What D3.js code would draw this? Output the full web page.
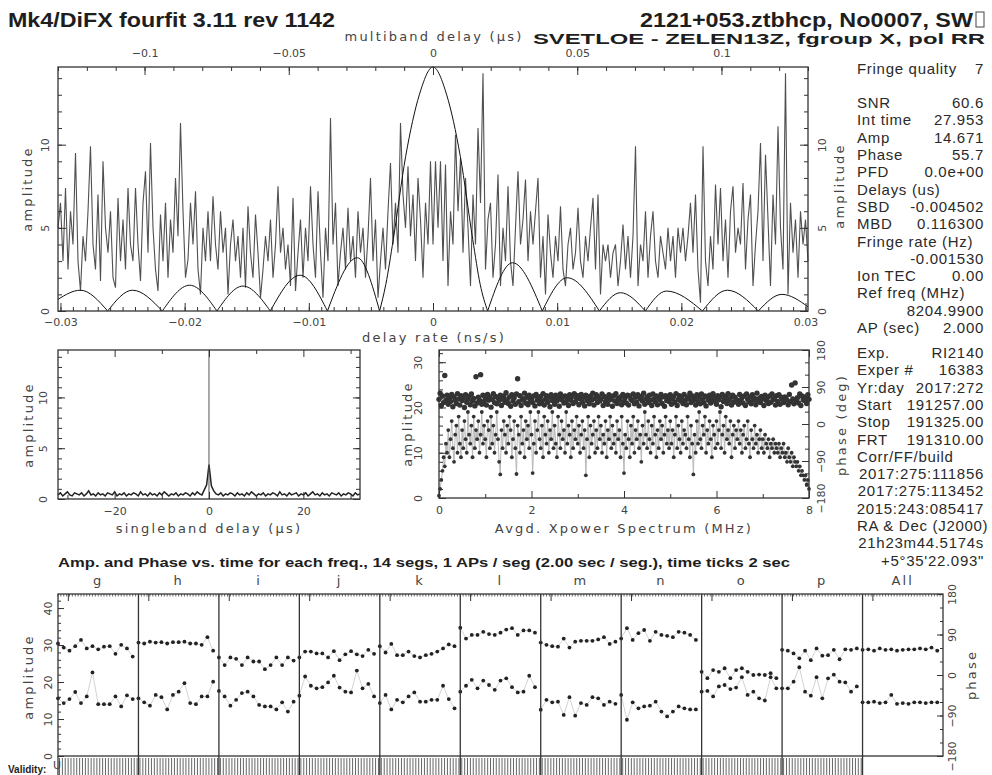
<!DOCTYPE html>
<html>
<head>
<meta charset="utf-8">
<script src="https://cdnjs.cloudflare.com/ajax/libs/d3/7.8.5/d3.min.js"></script>
<style>
body { margin:0; background:#fff; }
svg { display:block; }
.tk { font-family:"DejaVu Sans", sans-serif; font-size:11px; fill:#444; }
.ttl { font-family:"DejaVu Sans", sans-serif; font-size:13px; fill:#444; letter-spacing:2.2px; }
.info { font-family:"Liberation Sans", Arial, sans-serif; font-size:15px; fill:#2a2a2a; letter-spacing:0.7px; }
.big { font-family:"Liberation Sans", Arial, sans-serif; font-weight:bold; fill:#1e1e1e; }
</style>
</head>
<body>
<script>
// ---- fringe plot values ----

// multiband delay function (top axis, -0.13 .. 0.13 us, 301 samples)
var mbdAmp = [
  5.0,6.5,3.0,7.4,2.5,6.0,4.0,9.5,3.0,1.2, 4.5,3.0,6.0,9.9,4.0,2.5,7.0,1.8,9.0,5.0,
  3.5,6.0,2.0,1.4,6.8,3.0,5.5,2.5,7.4,4.0, 3.0,7.4,4.0,1.8,6.5,8.4,3.5,10.1,5.0,2.5,
  1.2,5.8,3.0,6.5,2.0,5.5,3.5,8.0,4.5,11.3, 6.0,2.0,3.1,6.5,4.0,7.2,2.5,1.0,5.0,3.0,
  6.0,3.0,6.9,4.0,2.5,6.0,3.5,5.0,1.0,4.0, 5.5,3.0,4.5,2.0,5.0,1.4,6.3,3.5,2.0,5.8,
  3.5,0.8,2.5,4.5,3.0,5.5,2.0,4.0,7.5,3.5, 5.0,2.5,4.0,1.5,6.8,1.2,3.5,5.5,2.0,5.0,
  3.0,7.5,4.0,2.0,7.2,3.5,0.8,5.0,3.0,11.6, 4.0,6.5,1.5,3.5,5.0,2.5,6.2,3.0,4.5,2.0,
  6.0,3.5,5.0,2.0,4.5,8.0,3.0,5.5,0.8,3.0, 5.0,2.5,6.0,8.9,4.0,6.5,3.5,11.3,7.0,5.0,
  8.7,4.5,7.0,3.0,8.0,5.5,2.0,6.5,4.0,9.0, 4.0,9.0,5.0,9.0,3.0,8.8,1.5,6.0,4.0,10.6,
  6.0,9.2,3.5,8.0,5.0,1.5,7.0,4.0,11.0,6.5, 14.3,2.5,5.5,6.5,2.0,4.0,8.2,1.5,5.0,3.0,
  7.5,3.0,1.5,5.0,8.4,4.0,5.5,7.9,3.0,6.0, 4.0,6.0,8.0,2.0,4.5,1.0,5.8,3.5,2.0,4.5,
  3.0,6.3,2.5,1.5,4.0,5.0,2.5,3.5,6.2,3.0, 2.0,4.5,3.0,5.0,6.8,2.5,7.0,1.0,4.0,3.0,
  4.0,2.0,3.5,4.0,1.5,3.0,5.2,2.5,4.5,2.0, 4.5,9.9,1.5,4.0,3.0,6.0,2.0,4.5,6.0,3.0,
  2.0,4.5,3.5,2.5,5.0,3.0,4.5,2.0,5.0,3.5, 5.0,3.0,4.5,6.5,3.5,7.0,2.5,0.5,9.9,3.0,
  1.5,4.5,2.5,7.6,4.0,7.4,3.0,5.5,2.0,6.0, 7.5,3.5,5.0,4.0,7.7,2.5,5.5,7.0,1.5,4.0,
  6.0,10.1,3.0,9.4,5.5,1.5,7.0,4.0,11.1,5.0, 2.5,14.3,1.0,6.5,3.5,5.5,2.0,6.0,4.0,5.5,
  3.0]
var mbdLimits = [-0.130, 0.130]

// delay rate function (bottom axis, ns/s)
var rateX = [-0.0302,-0.0284,-0.0262,-0.0242,-0.0218,-0.0196,-0.0174,-0.0153,-0.0131,-0.0107,
  -0.0085,-0.0061,-0.0043,-0.0038,-0.0032,-0.0022,-0.0011,0,0.0011,0.0022,
  0.0032,0.0038,0.0044,0.0064,0.0088,0.0108,0.0134,0.0151,0.0171,0.0188,
  0.0217,0.0237,0.0262,0.0281,0.0302]
var rateAmp = [0.7,1.25,0,1.25,0,1.55,0,1.5,0,2.15,
  0,3.2,0,1.6,4.3,9.3,13.0,14.67,13.0,9.3,
  4.3,1.6,0,2.9,0,2.0,0,1.1,0,1.2,
  0,1.25,0,1.0,0.25]

// singleband delay function, -32 .. 32 us in 0.5 us steps
var sbdAmp = [0.4,0.6,0.3,0.5,0.7,0.4,0.3,0.6,0.5,0.4,
  0.6,0.3,0.5,0.8,0.4,0.5,0.3,0.6,0.4,0.5,
  0.3,0.6,0.5,0.4,0.7,0.3,0.5,0.4,0.6,0.3,
  0.5,0.4,0.6,0.5,0.3,0.7,0.4,0.5,0.3,0.6,
  0.4,0.5,0.3,0.6,0.4,0.7,0.5,0.3,0.5,0.4,
  0.6,0.3,0.5,0.4,0.6,0.5,0.3,0.6,0.4,0.7,
  0.5,0.4,0.9,1.4,3.4,1.3,0.8,0.5,0.4,0.6,
  0.3,0.5,0.4,0.6,0.5,0.3,0.6,0.4,0.5,0.3,
  0.6,0.4,0.7,0.5,0.3,0.5,0.4,0.6,0.3,0.5,
  0.4,0.6,0.5,0.3,0.7,0.4,0.5,0.3,0.6,0.4,
  0.5,0.6,0.3,0.5,0.4,0.6,0.3,0.5,0.7,0.4,
  0.5,0.3,0.6,0.4,0.5,0.3,0.6,0.5,0.4,0.6,
  0.3,0.5,0.4,0.6,0.5,0.3,0.6,0.4,0.5]
var sbdStart = -32, sbdStep = 0.5
var sbdResult = -0.004502

// averaged cross power spectrum: amplitude and phase every 0.025 MHz
var specAmp = [
  0.5,2,4,6,9,7,12,10,15,9,13,17,11,8,14,16,10,18,12,9,
  15,11,17,13,10,19,14,12,16,9,18,11,15,13,17,10,14,19,12,16,
  13,9,17,15,11,18,12,16,10,14,19,13,8,5.2,15,11,17,14,10,16,
  12,18,15,9,13,17,11,5.3,16,14,10,18,12,15,9,17,13,16,11,19,
  14,5.5,12,17,10,15,19,13,11,16,9,18,14,12,17,10,15,13,19,11,
  16,12,9,18,14,11,17,13,15,10,19,12,16,14,9,17,11,15,13,18,
  12,16,10,14,17,11,15,5.0,13,18,9,16,12,14,17,10,15,11,18,13,
  16,10,14,12,17,9,15,13,18,11,16,12,14,10,17,13,15,9,18,12,
  5.5,14,11,17,13,9,16,12,18,10,15,13,17,11,14,8,16,12,19,14,
  11,17,13,10,16,12,18,14,9,15,11,17,13,16,10,14,18,12,15,11,
  17,12,15,9,14,18,11,16,13,10,17,12,15,14,11,18,13,9,16,12,
  5.2,14,10,17,12,19,13,11,16,14,18,10,15,12,17,13,9,16,14,11,
  17,12,15,19,11,14,16,10,18,13,15,12,17,9,14,16,11,15,13,17,
  12,15,10,14,16,11,13,17,12,9,15,13,11,16,12,14,10,13,15,11,
  13,10,14,12,11,13,9,12,11,13,10,12,11,10,12,9,11,10,12,9,
  10,8,11,9,8,10,7,9,8,7,8,6,7,5,6,5,4,5,3,4,
  2]
var specPhase = [
  60,75,45,68,52,118,58,70,48,63,55,72,42,66,58,50,74,61,46,69,
  57,64,40,71,53,60,67,47,73,56,62,44,115,51,65,58,120,48,70,55,
  63,46,72,58,66,41,60,74,52,67,49,63,57,70,45,61,68,53,76,59,
  50,66,43,71,56,64,48,73,110,54,69,45,62,58,75,51,65,47,70,57,
  61,52,68,44,72,58,63,49,67,55,74,46,60,69,53,65,42,71,57,62,
  48,70,56,64,43,73,59,66,51,68,55,62,45,71,58,67,50,74,54,63,
  69,47,61,72,53,65,44,70,57,63,49,68,58,75,46,62,71,52,66,56,
  60,73,45,67,54,62,48,71,59,65,43,69,56,74,50,63,58,66,47,72,
  55,64,51,70,46,68,60,57,73,49,65,53,71,44,62,67,56,75,48,61,
  66,52,70,58,45,73,61,54,68,47,64,59,72,50,66,43,69,57,63,55,
  71,48,62,67,53,74,45,60,69,56,64,50,72,58,47,66,61,75,52,68,
  57,63,46,71,55,66,49,73,60,52,68,44,65,58,70,51,62,74,56,64,
  48,69,59,66,42,72,55,61,67,50,74,57,63,46,70,53,65,59,58,48,
  72,56,64,51,68,45,73,60,54,66,49,71,58,62,47,75,55,62,52,67,
  61,45,70,57,64,50,68,53,73,59,62,46,69,55,71,48,65,60,52,66,
  63,58,47,72,54,95,61,49,100,56,64,51,73,45,68,59,57,66,50,71,
  60]
var specStep = 0.025

// amplitude and phase per segment for each frequency channel
var chanNames = ["g","h","i","j","k","l","m","n","o","p","All"]
var segAmp = [
  [15.6,14.3,15.4,17.3,14.3,16.1,22.6,14.0,14.0,14.0,16.1,13.4,16.4,15.4],
  [15.6,14.5,13.6,16.5,15.9,12.6,16.5,17.4,19.7,14.3,14.0,16.1,16.1,20.1],
  [17.6,16.1,13.6,15.2,17.0,17.4,16.1,13.8,13.4,13.4,12.6,14.5,12.0,14.7],
  [16.3,21.5,19.0,18.3,18.6,19.9,21.7,18.5,17.4,17.2,23.1,18.3,19.5,16.1],
  [14.3,16.5,12.6,15.2,14.5,16.1,17.2,14.7,14.7,15.2,15.2,19.0,15.4,12.9],
  [17.4,19.0,20.6,18.3,20.4,19.2,17.9,20.4,21.0,18.6,17.2,17.4,21.7,18.6],
  [12.5,15.2,14.5,14.7,11.1,15.9,10.9,14.3,13.8,15.9,15.6,13.8,14.7,14.1],
  [16.5,9.8,14.5,12.9,13.4,13.6,14.7,12.0,10.7,12.0,13.4,12.9,12.6,12.6],
  [17.4,17.6,16.1,18.8,19.2,18.1,18.5,21.3,16.5,17.4,15.6,15.0,21.3,18.3],
  [18.3,18.3,20.1,24.0,17.4,16.3,21.3,15.6,21.0,22.0,20.1,19.9,17.4,18.8],
  [14.5,14.5,14.7,14.3,14.5,16.5,14.1,14.3,14.1,14.5,14.5,14.3,14.5,14.5]]
var segPhase = [
  [70,61,54,64,78,59,64,57,63,64,47,67,59,41],
  [72,70,74,72,73,70,73,73,74,70,70,67,84,54],
  [39,22,39,36,22,39,30,30,13,22,39,22,39,32],
  [39,52,52,48,48,39,53,33,46,53,46,42,56,47],
  [64,50,69,44,44,52,42,39,44,47,52,59,68,64],
  [105,81,89,89,96,91,89,94,101,104,89,99,99,94],
  [72,67,64,63,81,61,74,76,76,76,79,84,69,74],
  [81,104,78,93,100,76,96,89,87,84,96,94,89,78],
  [7,-7,11,7,15,-7,11,15,7,0,1,0,4,-7],
  [56,54,48,37,54,33,59,43,44,56,35,57,56,59],
  [56,57,54,59,56,57,54,56,57,57,59,57,61,54]]
var nSegs = 14

// text block on the right
var infoTop = [["Fringe quality","7"],null,["SNR","60.6"],["Int time","27.953"],["Amp","14.671"],
  ["Phase","55.7"],["PFD","0.0e+00"],["Delays (us)",""],["SBD","-0.004502"],["MBD","0.116300"],
  ["Fringe rate (Hz)",""],["","-0.001530"],["Ion TEC","0.00"],["Ref freq (MHz)",""],
  ["","8204.9900"],["AP (sec)","2.000"]]
var infoBottom = [["Exp.","RI2140"],["Exper #","16383"],["Yr:day","2017:272"],["Start","191257.00"],
  ["Stop","191325.00"],["FRT","191310.00"],["Corr/FF/build",""],["","2017:275:111856"],
  ["","2017:275:113452"],["","2015:243:085417"],["RA & Dec (J2000)",""],["","21h23m44.5174s"],
  ["","+5\u00b035'22.093\""]]

var W = 992, H = 775
var svg = d3.select("body").append("svg")
    .attr("width", W)
    .attr("height", H)
svg.append("rect").attr("width", W).attr("height", H).attr("fill", "#fff")

var fmt = d3.format("")

function drawAxis(axis, tx, ty) {
  var a = svg.append("g")
    .attr("transform", "translate(" + tx + "," + ty + ")")
    .call(axis)
  a.select(".domain").remove()
  a.selectAll(".tick line").attr("stroke", "#333").attr("stroke-width", 1)
  a.selectAll(".tick text").attr("class", "tk")
  return a
}
// vertical tick labels, like the plotting package does
function rotLabels(a, dx) {
  a.selectAll(".tick text")
    .attr("x", 0).attr("dy", 0)
    .attr("text-anchor", "middle")
    .attr("transform", "translate(" + dx + ",0) rotate(-90)")
}
function vTitle(txt, cx, cy) {
  svg.append("text").attr("class", "ttl")
    .attr("text-anchor", "middle")
    .attr("transform", "translate(" + (cx + 4) + "," + cy + ") rotate(-90)")
    .text(txt)
}
function hTitle(txt, cx, y) {
  svg.append("text").attr("class", "ttl")
    .attr("text-anchor", "middle")
    .attr("x", cx).attr("y", y)
    .text(txt)
}
function frame(x0, y0, x1, y1) {
  svg.append("rect")
    .attr("x", x0).attr("y", y0)
    .attr("width", x1 - x0).attr("height", y1 - y0)
    .attr("fill", "none").attr("stroke", "#333").attr("stroke-width", 1.3)
}

// ---------------- titles ----------------
svg.append("text").attr("class", "big")
  .attr("x", 8).attr("y", 27).attr("font-size", 20)
  .attr("textLength", 327).attr("lengthAdjust", "spacingAndGlyphs")
  .text("Mk4/DiFX fourfit 3.11 rev 1142")
svg.append("text").attr("class", "big")
  .attr("x", 640).attr("y", 27).attr("font-size", 20)
  .attr("textLength", 333).attr("lengthAdjust", "spacingAndGlyphs")
  .text("2121+053.ztbhcp, No0007, SW")
svg.append("rect").attr("x", 976).attr("y", 12).attr("width", 8).attr("height", 15)
  .attr("fill", "none").attr("stroke", "#444").attr("stroke-width", 1)
svg.append("text").attr("class", "big")
  .attr("x", 533).attr("y", 44).attr("font-size", 15)
  .attr("textLength", 452).attr("lengthAdjust", "spacingAndGlyphs")
  .text("SVETLOE - ZELEN13Z, fgroup X, pol RR")

// ---------------- main plot: mbd + delay rate ----------------
var xRate = d3.scaleLinear().domain([-0.0302, 0.0302]).range([58, 808])
var xMbd = d3.scaleLinear().domain(mbdLimits).range([58, 808])
var yMain = d3.scaleLinear().domain([0, 14.67]).range([311, 67])

var mbdStep = (mbdLimits[1] - mbdLimits[0]) / (mbdAmp.length - 1)
var mbdLine = d3.line()
  .x(function(d, i) { return xMbd(mbdLimits[0] + i * mbdStep) })
  .y(function(d) { return yMain(d) })
svg.append("path")
  .datum(mbdAmp)
  .attr("d", mbdLine)
  .attr("fill", "none").attr("stroke", "#505050").attr("stroke-width", 1.1)

// delay rate curve, split into lobes at its nulls
var ratePts = rateX.map(function(d, i) { return [d, rateAmp[i]] })
var lobes = [], cur = []
ratePts.forEach(function(p) {
  cur.push(p)
  if (p[1] === 0 && cur.length > 1) { lobes.push(cur); cur = [p] }
})
if (cur.length > 1) lobes.push(cur)
var rateLine = d3.line()
  .x(function(d) { return xRate(d[0]) })
  .y(function(d) { return yMain(d[1]) })
  .curve(d3.curveMonotoneX)
svg.selectAll(".lobe").data(lobes).enter().append("path")
  .attr("class", "lobe")
  .attr("d", rateLine)
  .attr("fill", "none").attr("stroke", "#111").attr("stroke-width", 1)

frame(58, 67, 808, 311)
drawAxis(d3.axisBottom(xRate).tickValues(d3.range(-30, 31).map(function(d) { return d / 1000 }))
  .tickSize(-4).tickFormat(""), 0, 311)
drawAxis(d3.axisBottom(xRate).tickValues([-0.03, -0.02, -0.01, 0, 0.01, 0.02, 0.03])
  .tickSize(-8).tickPadding(7).tickFormat(fmt), 0, 311)
drawAxis(d3.axisTop(xMbd).tickValues(d3.range(-13, 14).map(function(d) { return d / 100 }))
  .tickSize(-4).tickFormat(""), 0, 67)
drawAxis(d3.axisTop(xMbd).tickValues([-0.1, -0.05, 0, 0.05, 0.1])
  .tickSize(-8).tickPadding(10).tickFormat(fmt), 0, 67)
drawAxis(d3.axisLeft(yMain).tickValues(d3.range(0, 15)).tickSize(-4).tickFormat(""), 58, 0)
rotLabels(drawAxis(d3.axisLeft(yMain).tickValues([0, 5, 10]).tickSize(-8).tickFormat(fmt), 58, 0), -9)
drawAxis(d3.axisRight(yMain).tickValues(d3.range(0, 15)).tickSize(-4).tickFormat(""), 808, 0)
rotLabels(drawAxis(d3.axisRight(yMain).tickValues([0, 5, 10]).tickSize(-8).tickFormat(fmt), 808, 0), 18)

hTitle("multiband delay (\u00b5s)", 434, 41)
hTitle("delay rate (ns/s)", 434, 342)
vTitle("amplitude", 28, 189)
vTitle("amplitude", 840, 186)

// ---------------- singleband delay ----------------
var xSbd = d3.scaleLinear().domain([-32, 32]).range([58, 360])
var ySbd = d3.scaleLinear().domain([0, 14.67]).range([499, 350])
var sbdLine = d3.line()
  .x(function(d, i) { return xSbd(sbdStart + i * sbdStep) })
  .y(function(d) { return ySbd(d) })
svg.append("path").datum(sbdAmp).attr("d", sbdLine)
  .attr("fill", "none").attr("stroke", "#222").attr("stroke-width", 1.5)
svg.append("line")
  .attr("x1", xSbd(sbdResult)).attr("x2", xSbd(sbdResult))
  .attr("y1", ySbd(0)).attr("y2", ySbd(14.67))
  .attr("stroke", "#555").attr("stroke-width", 1)

frame(58, 350, 360, 499)
drawAxis(d3.axisBottom(xSbd).tickValues([-30, -10, 10, 30]).tickSize(-4).tickFormat(""), 0, 499)
drawAxis(d3.axisBottom(xSbd).tickValues([-20, 0, 20]).tickSize(-7).tickPadding(8).tickFormat(fmt), 0, 499)
drawAxis(d3.axisTop(xSbd).tickValues([-30, -10, 10, 30]).tickSize(-4).tickFormat(""), 0, 350)
drawAxis(d3.axisTop(xSbd).tickValues([-20, 0, 20]).tickSize(-7).tickFormat(""), 0, 350)
drawAxis(d3.axisLeft(ySbd).tickValues(d3.range(0, 15)).tickSize(-4).tickFormat(""), 58, 0)
rotLabels(drawAxis(d3.axisLeft(ySbd).tickValues([0, 5, 10]).tickSize(-7).tickFormat(fmt), 58, 0), -11)
drawAxis(d3.axisRight(ySbd).tickValues(d3.range(0, 15)).tickSize(-4).tickFormat(""), 360, 0)
drawAxis(d3.axisRight(ySbd).tickValues([0, 5, 10]).tickSize(-7).tickFormat(""), 360, 0)
hTitle("singleband delay (\u00b5s)", 209, 533)
vTitle("amplitude", 29, 425)

// ---------------- cross power spectrum ----------------
var xSpec = d3.scaleLinear().domain([0, 8]).range([439, 809])
var ySpec = d3.scaleLinear().domain([0, 32.7]).range([498, 350])
var pSpec = d3.scaleLinear().domain([-180, 180]).range([498, 350])
var specLine = d3.line()
  .x(function(d, i) { return xSpec(i * specStep) })
  .y(function(d) { return ySpec(d) })
svg.append("path").datum(specAmp).attr("d", specLine)
  .attr("fill", "none").attr("stroke", "#b8b8b8").attr("stroke-width", 1)
svg.selectAll(".am").data(specAmp).enter().append("circle")
  .attr("class", "am")
  .attr("cx", function(d, i) { return xSpec(i * specStep) })
  .attr("cy", function(d) { return ySpec(d) })
  .attr("r", 1.9)
  .attr("fill", "#333")
svg.selectAll(".ph").data(specPhase).enter().append("circle")
  .attr("class", "ph")
  .attr("cx", function(d, i) { return xSpec(i * specStep) })
  .attr("cy", function(d) { return pSpec(d) })
  .attr("r", 2.7)
  .attr("fill", "#333")

frame(439, 350, 809, 498)
drawAxis(d3.axisBottom(xSpec).tickValues([1, 3, 5, 7]).tickSize(-4).tickFormat(""), 0, 498)
drawAxis(d3.axisBottom(xSpec).tickValues([0, 2, 4, 6, 8]).tickSize(-7).tickPadding(8).tickFormat(fmt), 0, 498)
drawAxis(d3.axisTop(xSpec).tickValues([1, 3, 5, 7]).tickSize(-4).tickFormat(""), 0, 350)
drawAxis(d3.axisTop(xSpec).tickValues([0, 2, 4, 6, 8]).tickSize(-7).tickFormat(""), 0, 350)
drawAxis(d3.axisLeft(ySpec).tickValues(d3.range(0, 33, 2)).tickSize(-4).tickFormat(""), 439, 0)
rotLabels(drawAxis(d3.axisLeft(ySpec).tickValues([0, 10, 20, 30]).tickSize(-7).tickFormat(fmt), 439, 0), -17)
drawAxis(d3.axisRight(pSpec).tickValues(d3.range(-180, 181, 30)).tickSize(-4).tickFormat(""), 809, 0)
rotLabels(drawAxis(d3.axisRight(pSpec).tickValues([-180, -90, 0, 90, 180]).tickSize(-7).tickFormat(fmt), 809, 0), 16)
hTitle("Avgd. Xpower Spectrum (MHz)", 624, 533)
vTitle("amplitude", 408, 424)
vTitle("phase (deg)", 842, 425)

// ---------------- right info block ----------------
function infoBlock(rows, y0) {
  rows.forEach(function(r, i) {
    if (!r) return
    var y = y0 + i * 17.3
    if (r[0]) svg.append("text").attr("class", "info").attr("x", 857).attr("y", y).text(r[0])
    if (r[1]) svg.append("text").attr("class", "info").attr("x", 984).attr("y", y)
      .attr("text-anchor", "end").text(r[1])
  })
}
infoBlock(infoTop, 73.5)
infoBlock(infoBottom, 358)

// ---------------- amp & phase vs time ----------------
var bx0 = 58, bx1 = 943, by0 = 594, by1 = 756
var xChan = d3.scaleBand().domain(chanNames).range([bx0, bx1])
var xSeg = d3.scaleLinear().domain([0, nSegs]).range([0, xChan.bandwidth()])
var yAmp = d3.scaleLinear().domain([0, 43.8]).range([by1, by0])
var yPh = d3.scaleLinear().domain([-180, 180]).range([by1, by0])

svg.append("text").attr("class", "big")
  .attr("x", 58).attr("y", 567).attr("font-size", 13)
  .attr("textLength", 732).attr("lengthAdjust", "spacingAndGlyphs")
  .text("Amp. and Phase vs. time for each freq., 14 segs, 1 APs / seg (2.00 sec / seg.), time ticks 2 sec")

chanNames.forEach(function(c, k) {
  var x0 = xChan(c)
  var g = svg.append("g").attr("transform", "translate(" + x0 + ",0)")
  var segs = d3.range(nSegs)
  var ampLine = d3.line().x(function(d, i) { return xSeg(i) }).y(function(d) { return yAmp(d) })
  var phLine = d3.line().x(function(d, i) { return xSeg(i) }).y(function(d) { return yPh(d) })
  g.append("path").datum(segAmp[k]).attr("d", ampLine)
    .attr("fill", "none").attr("stroke", "#c8c8c8").attr("stroke-width", 0.8)
  g.append("path").datum(segPhase[k]).attr("d", phLine)
    .attr("fill", "none").attr("stroke", "#c8c8c8").attr("stroke-width", 0.8)
  g.selectAll(".a").data(segAmp[k]).enter().append("circle")
    .attr("cx", function(d, i) { return xSeg(i) })
    .attr("cy", function(d) { return yAmp(d) })
    .attr("r", 1.9).attr("fill", "#222")
  g.selectAll(".p").data(segPhase[k]).enter().append("circle")
    .attr("cx", function(d, i) { return xSeg(i) })
    .attr("cy", function(d) { return yPh(d) })
    .attr("r", 1.9).attr("fill", "#222")
  // time ticks along the top
  g.selectAll(".tt").data(d3.range(0, nSegs, 0.5)).enter().append("line")
    .attr("x1", function(d) { return xSeg(d) }).attr("x2", function(d) { return xSeg(d) })
    .attr("y1", by0).attr("y2", by0 + 2.5)
    .attr("stroke", "#444").attr("stroke-width", 0.8)
  g.append("line").attr("x1", xSeg(1.8)).attr("x2", xSeg(1.8))
    .attr("y1", by0).attr("y2", by0 + 7).attr("stroke", "#333")
  // validity marks
  if (c !== "All") {
    g.selectAll(".v").data(segs).enter().append("g").each(function(d) {
      d3.select(this).selectAll("line").data([1.5, 4.4]).enter().append("line")
        .attr("x1", function(o) { return xSeg(d) + o }).attr("x2", function(o) { return xSeg(d) + o })
        .attr("y1", by1 + 2).attr("y2", H)
        .attr("stroke", "#555").attr("stroke-width", 0.9)
    })
  }
  svg.append("text").attr("class", "ttl")
    .attr("x", x0 + xChan.bandwidth() / 2).attr("y", 585)
    .attr("text-anchor", "middle").text(c)
})

frame(bx0, by0, bx1, by1)
svg.selectAll(".sep").data(chanNames.slice(1)).enter().append("line")
  .attr("x1", function(d) { return xChan(d) }).attr("x2", function(d) { return xChan(d) })
  .attr("y1", by0).attr("y2", H)
  .attr("stroke", "#333").attr("stroke-width", 1.3)
svg.append("line").attr("x1", bx0).attr("x2", bx0).attr("y1", by1).attr("y2", H)
  .attr("stroke", "#333").attr("stroke-width", 1.3)

drawAxis(d3.axisLeft(yAmp).tickValues(d3.range(0, 43, 2)).tickSize(-3).tickFormat(""), bx0, 0)
rotLabels(drawAxis(d3.axisLeft(yAmp).tickValues([0, 10, 20, 30, 40]).tickSize(-6).tickFormat(fmt), bx0, 0), -6)
drawAxis(d3.axisRight(yPh).tickValues(d3.range(-180, 181, 30)).tickSize(-3).tickFormat(""), bx1, 0)
rotLabels(drawAxis(d3.axisRight(yPh).tickValues([-180, -90, 0, 90, 180]).tickSize(-6).tickFormat(fmt), bx1, 0), 13)
vTitle("amplitude", 29, 677)
vTitle("phase", 972, 675)

svg.append("text").attr("class", "tk").attr("x", 53).attr("y", 769).text("U")
svg.append("text").attr("class", "big").attr("x", 8).attr("y", 773).attr("font-size", 10).text("Validity:")
</script>
</body>
</html>
